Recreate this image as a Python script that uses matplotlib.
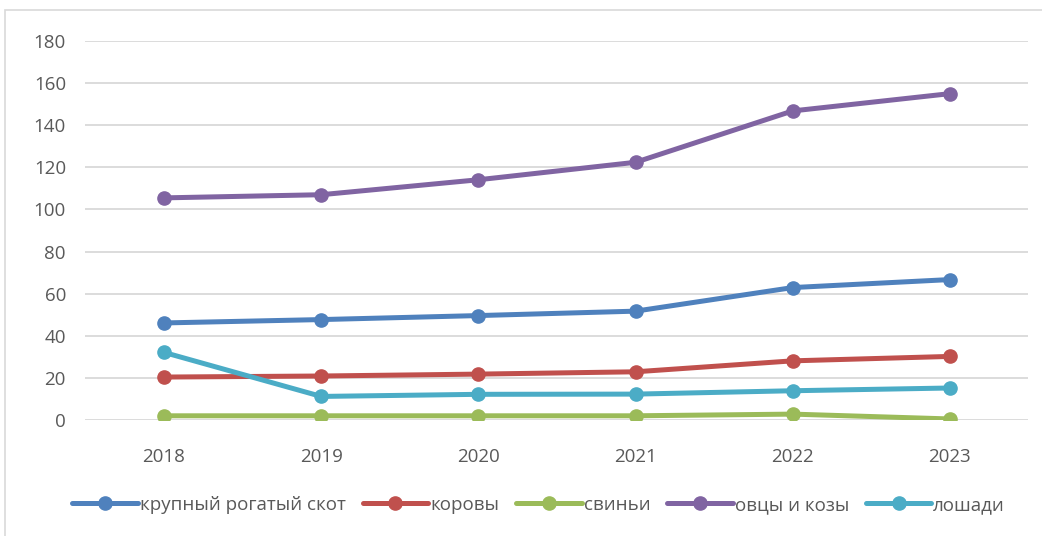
import matplotlib
matplotlib.use("Agg")
import matplotlib.pyplot as plt
from matplotlib.patches import Rectangle

years = ["2018", "2019", "2020", "2021", "2022", "2023"]
krs = [46.1, 47.7, 49.6, 51.7, 62.9, 66.7]
cows = [20.4, 20.9, 21.8, 22.9, 28.1, 30.2]
pigs = [2.0, 2.0, 2.0, 2.0, 2.8, 0.5]
sheep = [105.5, 107.0, 114.1, 122.4, 146.8, 155.0]
horses = [32.1, 11.2, 12.2, 12.3, 13.9, 15.2]

series = [
    ("крупный рогатый скот", krs, "#4F81BD"),
    ("коровы", cows, "#C0504D"),
    ("свиньи", pigs, "#9BBB59"),
    ("овцы и козы", sheep, "#8064A2"),
    ("лошади", horses, "#4BACC6"),
]

plt.rcParams['font.family'] = ['Open Sans', 'DejaVu Sans']

fig = plt.figure(figsize=(10.42, 5.36), dpi=100)
ax = fig.add_axes([0.082, 0.2164, 0.905, 0.7071])

x = list(range(len(years)))
for name, vals, col in series:
    ax.plot(x, vals, color=col, lw=3.6, marker='o', markersize=9.5,
            solid_capstyle='round', label=name, zorder=3)

ax.set_xlim(-0.5, len(years) - 0.5)
ax.set_ylim(0, 180)
ax.set_yticks(range(0, 181, 20))
ax.set_xticks(x)
ax.set_xticklabels(years)
ax.grid(axis='y', color='#D9D9D9', lw=1.3)
ax.set_axisbelow(True)
for s in ax.spines.values():
    s.set_visible(False)
ax.tick_params(length=0, colors='#595959', labelsize=13.5)
ax.tick_params(axis='y', pad=14)
ax.tick_params(axis='x', pad=20)

leg = fig.legend(loc='center', bbox_to_anchor=(0.517, 0.058), ncol=5, frameon=False,
                 fontsize=13.5, handlelength=3.5, handletextpad=0.1, columnspacing=0.9)
for t in leg.get_texts():
    t.set_color('#595959')

fig.patches.append(Rectangle((5 / 1042, -0.1), 1.2, 1 - 10 / 536 + 0.1,
                             transform=fig.transFigure, fill=False,
                             edgecolor='#D9D9D9', lw=1.2))

fig.savefig("out.png", dpi=100)
